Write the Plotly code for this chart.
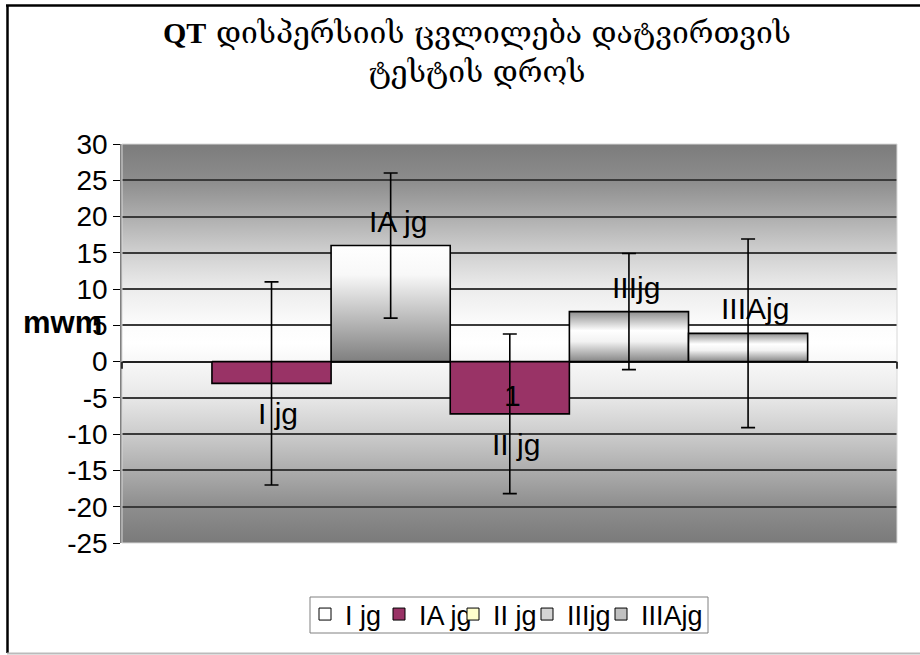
import base64
import plotly.graph_objects as go

# ---------------- data ----------------
series = ["I jg", "IA jg", "II jg", "IIIjg", "IIIAjg"]
means = [-3.0, 16.0, -7.2, 6.9, 3.9]
errors = [14.0, 10.0, 11.0, 8.0, 13.0]
legend_colors = ["#ffffff", "#993366", "#ffffcc", "#d4d4d4", "#c0c0c0"]
y_ticks = [-25, -20, -15, -10, -5, 0, 5, 10, 15, 20, 25, 30]
title_main = "დისპერსიის ცვლილება დატვირთვის"
title_second = "ტესტის დროს"
title_prefix = "QT"
axis_label = "mwm"
stray_label = "1"

# ---------------- styles ----------------
W, H = 920, 655
ML, MR, MT, MB = 122, 23, 144, 112
PW, PH = W - ML - MR, H - MT - MB
FONT = "Arial, 'Liberation Sans', sans-serif"
PURPLE = "#993366"
grad_top_white = [[0, "#7f7f7f"], [0.75, "#f8f8f8"], [1, "#ffffff"]]
grad_cylinder = [[0, "#858585"], [0.4, "#f2f2f2"], [0.62, "#ffffff"], [1, "#8e8e8e"]]
bar_styles = [("solid", PURPLE), ("grad", grad_top_white), ("solid", PURPLE),
              ("grad", grad_cylinder), ("grad", grad_cylinder)]


def px_x(p):
    return (p - ML) / PW


def px_y(p):
    return (H - MB - p) / PH


fig = go.Figure()

# bars as filled shapes through the axes (so gradients are possible)
for i, (name, v) in enumerate(zip(series, means)):
    xs = [i - 0.5, i - 0.5, i + 0.5, i + 0.5, i - 0.5]
    ys = [0, v, v, 0, 0]
    kind, style = bar_styles[i]
    kw = dict(x=xs, y=ys, mode="lines", fill="toself",
              line=dict(color="black", width=1.6),
              showlegend=False, hoverinfo="skip", name=name)
    if kind == "solid":
        kw["fillcolor"] = style
    else:
        lo, hi = min(0, v), max(0, v)
        kw["fillgradient"] = dict(type="vertical", start=lo, stop=hi, colorscale=style)
    fig.add_trace(go.Scatter(**kw))

# error bars
fig.add_trace(go.Scatter(
    x=list(range(len(means))), y=means, mode="markers",
    marker=dict(size=1, color="rgba(0,0,0,0)"),
    error_y=dict(type="data", array=errors, visible=True,
                 color="black", thickness=1.6, width=7),
    showlegend=False, hoverinfo="skip"))

# legend entries
for name, c in zip(series, legend_colors):
    fig.add_trace(go.Bar(x=[None], y=[None], name=name,
                         marker=dict(color=c, line=dict(color="black", width=1))))
# invisible spacer entry so the last legend text is not clipped
fig.add_trace(go.Bar(x=[None], y=[None], name=" ",
                     marker=dict(color="rgba(0,0,0,0)", line=dict(width=0))))

# data labels
LABEL_FONT = dict(family=FONT, size=30, color="black")
annotations = []
for i, (name, v) in enumerate(zip(series, means)):
    if v >= 0:
        annotations.append(dict(x=i, y=v, text=name, showarrow=False, xref="x", yref="y",
                                yanchor="bottom", yshift=6, xshift=7, font=LABEL_FONT))
    else:
        annotations.append(dict(x=i, y=v, text=name, showarrow=False, xref="x", yref="y",
                                yanchor="top", yshift=-12, xshift=6, font=LABEL_FONT))
annotations.append(dict(x=2, y=means[2], text=stray_label, showarrow=False, xref="x", yref="y",
                        yanchor="bottom", yshift=0, xshift=3, font=LABEL_FONT))
annotations.append(dict(x=px_x(21), y=px_y(322), xref="paper", yref="paper", text="<b>%s</b>" % axis_label,
                        showarrow=False, xanchor="left", yanchor="middle",
                        font=dict(family=FONT, size=31, color="black")))

# title
title_text = ('<span style="font-family:\'Liberation Serif\', serif"><b>%s</b></span> %s<br>%s'
              % (title_prefix, title_main, title_second))
annotations.append(dict(x=px_x(477), y=px_y(13), xref="paper", yref="paper", text=title_text,
                        showarrow=False, xanchor="center", yanchor="top", align="center",
                        font=dict(family="'DejaVu Serif', serif", size=30, color="black")))

# background gradient of the plot area
stops = [(0, "#7c7c7c"), (0.09, "#8c8c8c"), (0.18, "#adadad"), (0.27, "#cfcfcf"),
         (0.363, "#ececec"), (0.454, "#fcfcfc"), (0.5, "#ffffff"), (0.544, "#f8f8f8"),
         (0.634, "#e8e8e8"), (0.724, "#cdcdcd"), (0.817, "#adadad"), (0.907, "#8e8e8e"),
         (1, "#7a7a7a")]
stop_xml = "".join('<stop offset="%g" stop-color="%s"/>' % s for s in stops)
svg = ('<svg xmlns="http://www.w3.org/2000/svg" width="100" height="100" viewBox="0 0 100 100" '
       'preserveAspectRatio="none"><defs><linearGradient id="g" x1="0" y1="0" x2="0" y2="1">'
       + stop_xml + '</linearGradient></defs><rect width="100" height="100" fill="url(#g)"/></svg>')
src = "data:image/svg+xml;base64," + base64.b64encode(svg.encode()).decode()

shapes = [
    # outer chart frame
    dict(type="line", xref="paper", yref="paper", x0=px_x(6), x1=px_x(930), y0=px_y(5.5), y1=px_y(5.5),
         line=dict(color="black", width=2.5)),
    dict(type="line", xref="paper", yref="paper", x0=px_x(7.5), x1=px_x(7.5), y0=px_y(5), y1=px_y(653),
         line=dict(color="black", width=2.5)),
    dict(type="line", xref="paper", yref="paper", x0=px_x(7), x1=px_x(930), y0=px_y(653.5), y1=px_y(653.5),
         line=dict(color="#bbbbbb", width=2)),
    # light plot border
    dict(type="rect", xref="paper", yref="paper", x0=0, x1=1, y0=0, y1=1,
         line=dict(color="#d8d8d8", width=1), layer="above"),
    # category axis end ticks
    dict(type="line", xref="paper", yref="y", x0=0, x1=0, ysizemode="pixel", yanchor=0, y0=0, y1=-7,
         line=dict(color="black", width=1.5)),
    dict(type="line", xref="paper", yref="y", x0=1, x1=1, ysizemode="pixel", yanchor=0, y0=0, y1=-7,
         line=dict(color="black", width=1.5)),
    # legend frame
    dict(type="rect", xref="paper", yref="paper", x0=px_x(310), x1=px_x(708), y0=px_y(597), y1=px_y(633),
         line=dict(color="#808080", width=1), fillcolor="white", layer="above"),
]

fig.update_layout(
    width=W, height=H,
    margin=dict(l=ML, r=MR, t=MT, b=MB),
    paper_bgcolor="white", plot_bgcolor="rgba(0,0,0,0)",
    xaxis=dict(range=[-1.255, len(series) - 1 + 1.25], showgrid=False, zeroline=False,
               showticklabels=False, ticks="", showline=False, fixedrange=True),
    yaxis=dict(range=[y_ticks[0], y_ticks[-1]], tickvals=y_ticks,
               ticktext=[str(t) for t in y_ticks], showgrid=False,
               minor=dict(tickvals=y_ticks[1:-1], showgrid=True, gridcolor="#3a3a3a",
                          gridwidth=1.5, ticks=""),
               zeroline=True, zerolinecolor="#222222", zerolinewidth=1.6,
               ticks="outside", ticklen=7, tickwidth=1.2, tickcolor="black",
               showline=True, linecolor="#808080", linewidth=1.5,
               tickfont=dict(family=FONT, size=28, color="black")),
    barmode="group",
    legend=dict(orientation="h", x=px_x(305), xanchor="left", y=px_y(590), yanchor="top",
                borderwidth=0, bgcolor="rgba(0,0,0,0)",
                font=dict(family=FONT, size=27, color="black"),
                itemwidth=30, traceorder="normal", tracegroupgap=0,
                entrywidth=29, entrywidthmode="pixels"),
    annotations=annotations,
    shapes=shapes,
    images=[dict(source=src, xref="x domain", yref="y domain", x=0, y=1, sizex=1, sizey=1,
                 sizing="stretch", xanchor="left", yanchor="top", layer="below")],
    showlegend=True,
)

fig.write_html("out.html", config={"displayModeBar": False},
               post_script="document.body.style.margin='0';")
